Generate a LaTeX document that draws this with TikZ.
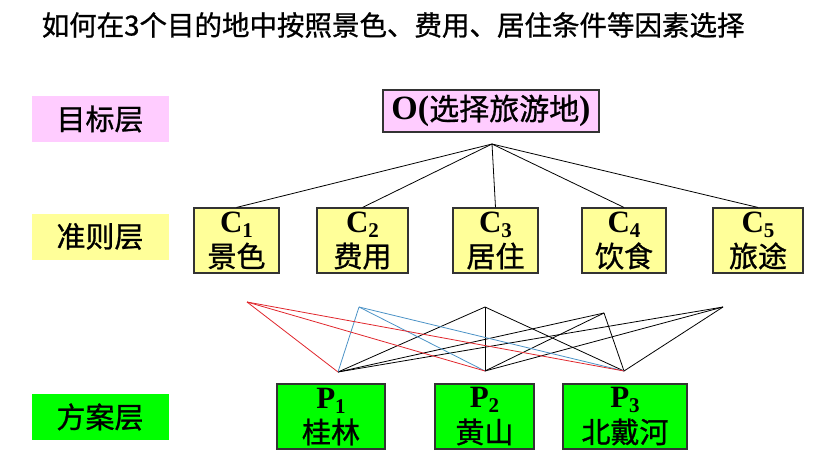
\documentclass[tikz,border=0pt]{standalone}
\usepackage{fontspec}
\setmainfont{Liberation Serif}
\newfontfamily\cjk[FakeBold=0.9]{Noto Sans CJK SC}
\usetikzlibrary{positioning}
\definecolor{cpink}{HTML}{FFCCFF}
\definecolor{cyellow}{HTML}{FFFF99}
\definecolor{cgreen}{HTML}{00FF00}
\definecolor{cred}{HTML}{E0262C}
\definecolor{cblue}{HTML}{4B92C6}
\definecolor{cedge}{HTML}{333333}
\newcommand{\idx}[1]{\raisebox{-5pt}{\fontsize{21}{21}\selectfont #1}}
\newcommand{\boxtext}[3]{{\bfseries\fontsize{31}{31}\selectfont #1\idx{#2}}\\{\cjk #3}}
\tikzset{
  every picture/.style={line width=0.8pt},
  layer/.style={fill=#1, minimum width=137pt, minimum height=46pt, inner sep=0pt, font=\cjk\fontsize{29}{29}\selectfont},
  item/.style={draw=cedge, fill=#1, line width=1.1pt, inner sep=0pt, align=center, font=\fontsize{29}{35}\selectfont},
  link/.style={line width=0.8pt},
}
\begin{document}
\begin{tikzpicture}[x=1pt, y=-1pt]
  \useasboundingbox (0,0) rectangle (829,473);
  \node[anchor=west, font=\cjk\fontsize{27.5}{27.5}\selectfont] (title) at (38,25) {如何在3个目的地中按照景色、费用、居住条件等因素选择};
  % layer labels
  \node[layer=cpink] (lgoal) at (100,119) {目标层};
  \node[layer=cyellow] (lcrit) at (100,236.5) {准则层};
  \node[layer=cgreen] (lalt) at (100,417) {方案层};
  % goal
  \node[item=cpink, minimum width=216pt, minimum height=42pt] (goal) at (491,111)
    {{\bfseries\fontsize{34}{34}\selectfont O(}{\cjk\fontsize{30}{30}\selectfont 选择旅游地}{\bfseries\fontsize{34}{34}\selectfont )}};
  % criteria
  \node[item=cyellow, minimum width=85pt, minimum height=65pt] (c1) at (236.5,240.5) {\boxtext{C}{1}{景色}};
  \node[item=cyellow, minimum width=91pt, minimum height=65pt] (c2) at (362.5,240.5) {\boxtext{C}{2}{费用}};
  \node[item=cyellow, minimum width=85pt, minimum height=65pt] (c3) at (495.5,240.5) {\boxtext{C}{3}{居住}};
  \node[item=cyellow, minimum width=84pt, minimum height=65pt] (c4) at (624,240.5) {\boxtext{C}{4}{饮食}};
  \node[item=cyellow, minimum width=90pt, minimum height=65pt] (c5) at (758,240.5) {\boxtext{C}{5}{旅途}};
  % alternatives
  \node[item=cgreen, minimum width=108pt, minimum height=65pt] (p1) at (331,416.5) {\boxtext{P}{1}{桂林}};
  \node[item=cgreen, minimum width=99pt, minimum height=65pt] (p2) at (484.5,416.5) {\boxtext{P}{2}{黄山}};
  \node[item=cgreen, minimum width=124pt, minimum height=65pt] (p3) at (625,416.5) {\boxtext{P}{3}{北戴河}};
  % goal to criteria
  \coordinate (hub) at (492,144);
  \foreach \c in {c1,c2,c3,c4,c5}
    \draw[link] (hub) -- (\c.north);
  % criteria to alternatives
  \coordinate (t1) at (247,302);
  \coordinate (t2) at (359,307);
  \coordinate (t3) at (485,307);
  \coordinate (t4) at (604,313);
  \coordinate (t5) at (723,307);
  \coordinate (b1) at (338,372);
  \coordinate (b2) at (485,371);
  \coordinate (b3) at (624,371);
  \foreach \t/\col in {t3/black, t4/black, t5/black, t2/cblue, t1/cred}
    \foreach \b in {b1,b2,b3}
      \draw[link, draw=\col] (\t) -- (\b);
\end{tikzpicture}
\end{document}
